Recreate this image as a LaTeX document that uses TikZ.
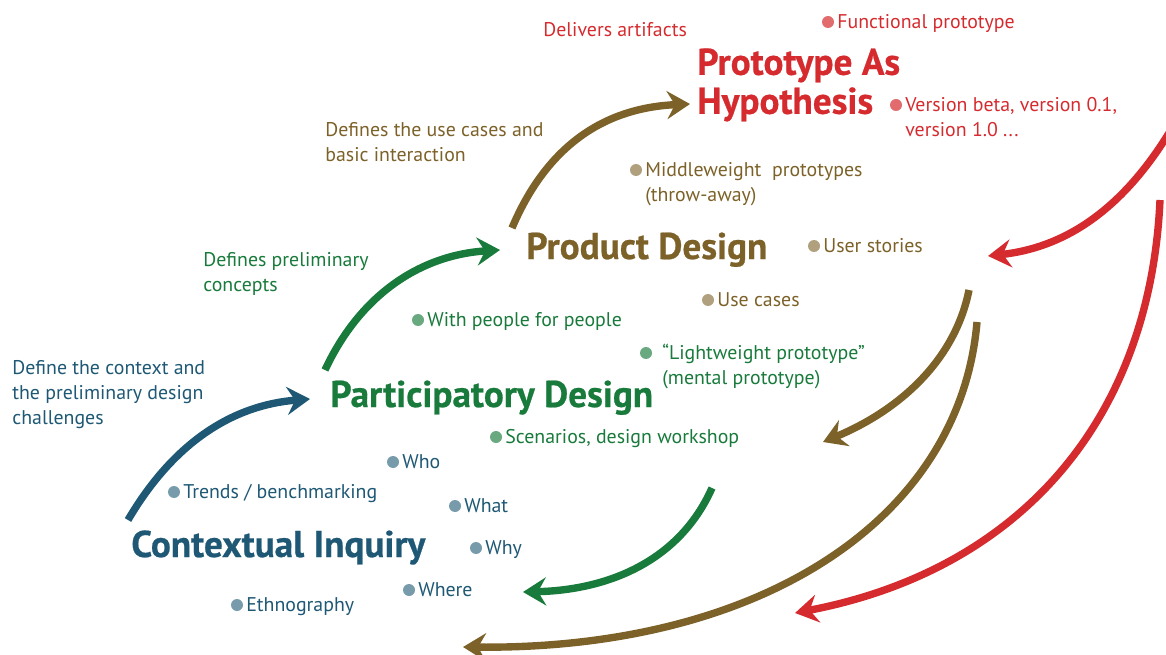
\documentclass[tikz,border=0pt]{standalone}
\usepackage{fontspec}
\setmainfont{PT Sans}
\newfontfamily\phasefont[FakeBold=0.6]{PT Sans Bold}
\usetikzlibrary{arrows.meta,positioning}

\definecolor{protored}{HTML}{D52B2F}
\definecolor{prodbrown}{HTML}{7C6128}
\definecolor{partgreen}{HTML}{187A3B}
\definecolor{ctxteal}{HTML}{1E5874}

\tikzset{
  phase/.style={font=\fontsize{21.2}{22.2}\phasefont, inner sep=0pt, align=left},
  note/.style={font=\fontsize{11.3}{14.2}\selectfont, inner sep=0pt, align=left},
  dot/.style={circle, fill=#1, inner sep=0pt, minimum size=0.24cm},
  itemtext/.style={note, right=1.5pt of #1, anchor=base west, yshift=-3.6pt},
  nextline/.style={note, anchor=base west},
  flow/.style={draw=#1, line width=4.2pt, -{Stealth[length=0.46cm, width=0.56cm, inset=0.16cm]}},
}

\begin{document}
\begin{tikzpicture}[x=0.02cm, y=-0.02cm]
  \clip (0,0) rectangle (1166,655);

  % phases
  \node[phase, protored, anchor=north west] (proto) at (697,48) {Prototype As\\Hypothesis};
  \node[phase, prodbrown, anchor=base west] (prod) at (526,259) {Product Design};
  \node[phase, partgreen, anchor=base west] (part) at (330,407) {Participatory Design};
  \node[phase, ctxteal, anchor=base west] (ctx) at (131,557) {Contextual Inquiry};

  % what each step gives
  \node[note, protored, anchor=base west] (deliv) at (543,37) {Delivers artifacts};
  \node[note, prodbrown, anchor=north west] (usecase) at (325,122) {Defines the use cases and\\basic interaction};
  \node[note, partgreen, anchor=north west] (prelim) at (203,252) {Defines preliminary\\concepts};
  \node[note, ctxteal, anchor=north west] (context) at (12,360) {Define the context and\\the preliminary design\\challenges};

  % prototype items
  \node[dot=protored!70] (fdot) at (828,22) {};
  \node[itemtext=fdot, protored] (func) {Functional prototype};
  \node[dot=protored!70] (vdot) at (896,105) {};
  \node[itemtext=vdot, protored] (vers) {Version beta, version 0.1,};
  \node[nextline, protored] (vers2) at ([yshift=-14.2pt]vers.base west) {version 1.0 ...};

  % product items
  \node[dot=prodbrown!60] (mdot) at (636,170) {};
  \node[itemtext=mdot, prodbrown] (middle) {Middleweight\ \ prototypes};
  \node[nextline, prodbrown] (middle2) at ([yshift=-14.2pt]middle.base west) {(throw-away)};
  \node[dot=prodbrown!60] (udot) at (814,246) {};
  \node[itemtext=udot, prodbrown] (stories) {User stories};
  \node[dot=prodbrown!60] (ucdot) at (708,300) {};
  \node[itemtext=ucdot, prodbrown] (cases) {Use cases};

  % participatory items
  \node[dot=partgreen!65] (wdot) at (418,320) {};
  \node[itemtext=wdot, partgreen] (people) {With people for people};
  \node[dot=partgreen!65] (ldot) at (646,353) {};
  \node[itemtext=ldot, partgreen, xshift=4pt] (light) {“Lightweight prototype”};
  \node[nextline, partgreen] (light2) at ([yshift=-14.2pt]light.base west) {(mental prototype)};
  \node[dot=partgreen!65] (sdot) at (496,437) {};
  \node[itemtext=sdot, partgreen] (scen) {Scenarios, design workshop};

  % context items
  \node[dot=ctxteal!60] (whodot) at (393,462) {};
  \node[itemtext=whodot, ctxteal] (who) {Who};
  \node[dot=ctxteal!60] (tdot) at (174,492) {};
  \node[itemtext=tdot, ctxteal] (trends) {Trends / benchmarking};
  \node[dot=ctxteal!60] (whatdot) at (455,506) {};
  \node[itemtext=whatdot, ctxteal] (what) {What};
  \node[dot=ctxteal!60] (whydot) at (476,548) {};
  \node[itemtext=whydot, ctxteal] (why) {Why};
  \node[dot=ctxteal!60] (wheredot) at (409,590) {};
  \node[itemtext=wheredot, ctxteal] (where) {Where};
  \node[dot=ctxteal!60] (edot) at (237,605) {};
  \node[itemtext=edot, ctxteal] (ethno) {Ethnography};

  % arrow ends
  \coordinate (ctxup) at (128,520);
  \coordinate (ctxtip) at (310,399);
  \coordinate (partup) at (325,370);
  \coordinate (parttip) at (500,250);
  \coordinate (produp) at (512,228);
  \coordinate (prodtip) at (690,104);
  \coordinate (redin) at (1172,128);
  \coordinate (redtip) at (988,256);
  \coordinate (redlong) at (1160,200);
  \coordinate (redend) at (795,613);
  \coordinate (brshort) at (969,290);
  \coordinate (brshorttip) at (823,442);
  \coordinate (brlong) at (977,322);
  \coordinate (brlongtip) at (463,647);
  \coordinate (grdown) at (712,488);
  \coordinate (grtip) at (523,592);

  % forward steps
  \draw[flow=ctxteal] (ctxup) .. controls (175,440) and (235,405) .. (ctxtip);
  \draw[flow=partgreen] (partup) .. controls (360,295) and (420,255) .. (parttip);
  \draw[flow=prodbrown] (produp) .. controls (545,150) and (600,108) .. (prodtip);

  % feedback loops
  \draw[flow=protored] (redin) .. controls (1120,215) and (1060,248) .. (redtip);
  \draw[flow=protored] (redlong) .. controls (1150,420) and (1020,570) .. (redend);
  \draw[flow=prodbrown] (brshort) .. controls (955,360) and (900,410) .. (brshorttip);
  \draw[flow=prodbrown] (brlong) .. controls (960,520) and (760,650) .. (brlongtip);
  \draw[flow=partgreen] (grdown) .. controls (680,560) and (610,590) .. (grtip);
\end{tikzpicture}
\end{document}
